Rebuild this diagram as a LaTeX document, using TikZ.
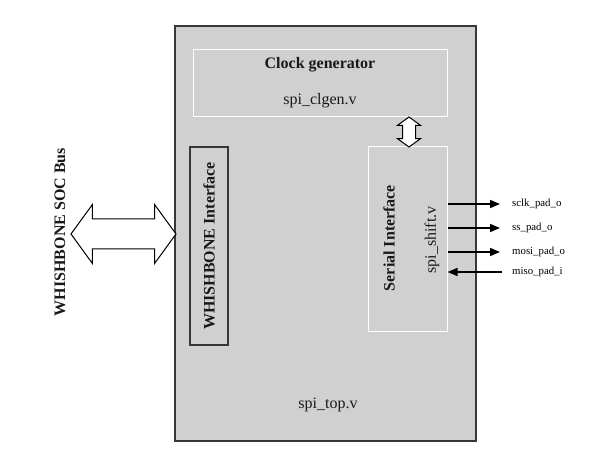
\documentclass[tikz,border=0pt]{standalone}
\usepackage{fontspec}
\setmainfont{Liberation Serif}
\usetikzlibrary{shapes.arrows, arrows.meta}
\definecolor{blockgray}{RGB}{208,208,208}
\definecolor{edgegray}{RGB}{55,55,55}
\tikzstyle{block} = [rectangle, draw=edgegray, line width=2pt, fill=blockgray, inner sep=0pt]
\tikzstyle{subblock} = [rectangle, draw=white, line width=1pt, fill=blockgray, inner sep=0pt]
\tikzstyle{wbblock} = [rectangle, draw=edgegray, line width=1.2pt, fill=blockgray, inner sep=0pt]
\tikzstyle{blocktitle} = [font=\fontsize{16}{19}\selectfont\bfseries, text=black!90]
\tikzstyle{blockfile} = [font=\fontsize{16}{19}\selectfont, text=black!90]
\tikzstyle{padlabel} = [font=\fontsize{10.8}{13}\selectfont, anchor=west, inner sep=0pt]
\tikzstyle{busarrow} = [double arrow, draw=black, fill=white, line width=1pt, double arrow tip angle=108]
\tikzstyle{arrow} = [line width=1.5pt, -{Triangle[length=10pt,width=8pt]}]

\begin{document}
\begin{tikzpicture}[x=1pt, y=-1pt]
    \useasboundingbox (0,0) rectangle (602,462);

    % Blocks
    \node (top) [block, minimum width=301pt, minimum height=415pt] at (325.5,233.5) {};
    \node (clkgen) [subblock, minimum width=254pt, minimum height=67pt] at (320,83.5) {};
    \node (serial) [subblock, minimum width=79pt, minimum height=184pt] at (407.5,239) {};
    \node (wbif) [wbblock, minimum width=38pt, minimum height=198pt] at (209,246) {};

    % Texts
    \node (clktitle) [blocktitle] at (320,65) {Clock generator};
    \node (clkfile) [blockfile] at (320,101) {spi\_clgen.v};
    \node (serialtitle) [blocktitle, rotate=90] at (389,238) {Serial Interface};
    \node (serialfile) [blockfile, rotate=90] at (432,240) {spi\_shift.v};
    \node (wbtitle) [blocktitle, rotate=90] at (209,246) {WHISHBONE Interface};
    \node (topfile) [blockfile] at (328,405) {spi\_top.v};
    \node (buslabel) [blocktitle, rotate=90] at (60,232) {WHISHBONE SOC Bus};

    % Double arrows
    \node (bus) [busarrow, inner sep=14.5pt, minimum height=105pt, double arrow head extend=14.5pt] at (123.5,234) {};
    \node (clklink) [busarrow, inner sep=6pt, minimum height=30pt, double arrow head extend=5pt, rotate=90] at (409,132) {};

    % Pads
    \node (sclk) [padlabel] at (512,204) {sclk\_pad\_o};
    \node (ss) [padlabel] at (512,228) {ss\_pad\_o};
    \node (mosi) [padlabel] at (512,252) {mosi\_pad\_o};
    \node (miso) [padlabel] at (512,272) {miso\_pad\_i};

    \draw [arrow] (serial.east |- sclk.west) -- ([xshift=-12pt]sclk.west);
    \draw [arrow] (serial.east |- ss.west) -- ([xshift=-12pt]ss.west);
    \draw [arrow] (serial.east |- mosi.west) -- ([xshift=-12pt]mosi.west);
    \draw [arrow] ([xshift=-10pt]miso.west) -- (serial.east |- miso.west);

\end{tikzpicture}
\end{document}
